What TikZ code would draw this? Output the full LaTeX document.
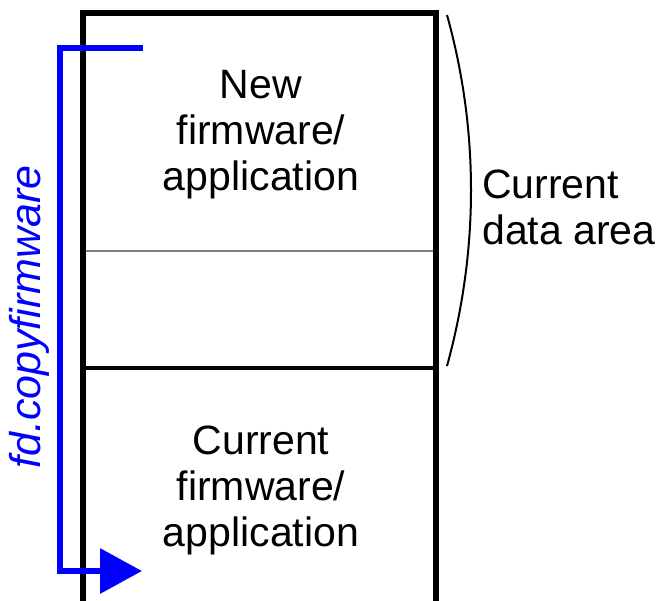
\documentclass[tikz,border=0pt]{standalone}
\usepackage{fontspec}
\setmainfont{Liberation Sans}
\usetikzlibrary{arrows.meta}
\definecolor{arrowblue}{RGB}{0,0,255}
\tikzset{
  lbl/.style={font=\fontsize{41}{46}\selectfont, align=center, inner sep=0pt},
  side/.style={font=\fontsize{41}{46}\selectfont, align=left, inner sep=0pt, anchor=west},
  frame/.style={line width=6pt, draw=black},
  flow/.style={line width=6.5pt, draw=arrowblue},
}
\begin{document}
\begin{tikzpicture}[x=1pt,y=-1pt]
\useasboundingbox (0,0) rectangle (658,600);
% region boundaries
\draw[line width=2pt, draw=gray] (83,251) -- (436,251);
\draw[line width=3.5pt] (83,368) -- (436,368);
% outer frame
\draw[frame] (83,610) -- (83,13) -- (436,13) -- (436,610);
% texts
\node[lbl] (new) at (261,135) {New\\firmware/\\application};
\node[lbl] (cur) at (261,490) {Current\\firmware/\\application};
\node[side] (data) at (482,207) {Current\\data area};
\node[lbl, text=arrowblue, font=\fontsize{43}{46}\selectfont\itshape, rotate=90] (cmd) at (29,317) {fd.copyfirmware};
% bracket
\coordinate (bt) at (447,15);
\coordinate (bb) at (447,366);
\draw[line width=2pt] (bt) .. controls (479,130) and (479,250) .. (bb);
% blue arrow
\coordinate (as) at (143,48);
\coordinate (ae) at (142,571);
\draw[flow, -{Triangle[length=42pt,width=44pt]}] (as) -- (60,48) -- (60,571) -- (ae);
\end{tikzpicture}
\end{document}
